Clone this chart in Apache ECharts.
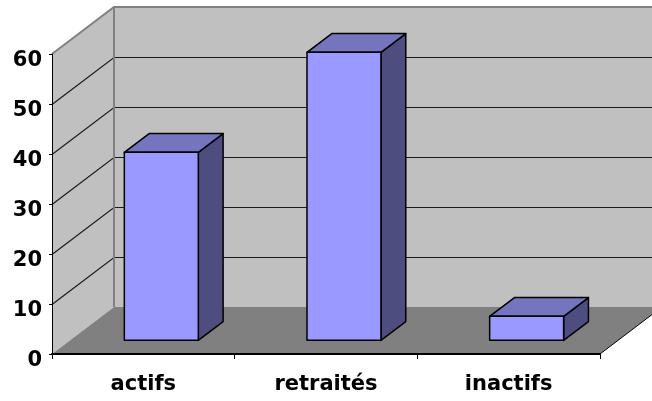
<!DOCTYPE html>
<html><head><meta charset="utf-8">
<script src="https://cdn.jsdelivr.net/npm/echarts@6/dist/echarts.min.js"></script>
<style>html,body{margin:0;padding:0;background:#fff}#chart{width:652px;height:401px}</style>
</head><body><div id="chart"></div>
<script>
const categories = ['actifs', 'retraités', 'inactifs'];
const values = [37.6, 57.6, 4.8];
const yTicks = [0, 10, 20, 30, 40, 50, 60];

// oblique projection of the depth axis: front plane -> back wall
const DEPTH = { x: 62, y: -47 };
const BAR_FRONT = 0.29;   // depth fraction where a bar's front face sits
const BAR_DEPTH = 0.40;   // depth fraction occupied by a bar
const BAR_WIDTH = 0.405;  // share of the category band

const font = '"DejaVu Sans", Arial, sans-serif';
const chart = echarts.init(document.getElementById('chart'), null, { renderer: 'canvas' });

// walls, floor and gridlines of the 3D box
function renderWalls(params, api) {
  const cs = params.coordSys;
  const x0 = cs.x, x1 = cs.x + cs.width;
  const b0 = api.coord([0, yTicks[0]])[1];
  const b1 = api.coord([0, yTicks[yTicks.length - 1]])[1];
  const dx = DEPTH.x, dy = DEPTH.y;
  const ch = [];
  ch.push({ type: 'polygon', shape: { points: [[x0 + dx, b1 + dy], [x1 + dx, b1 + dy], [x1 + dx, b0 + dy], [x0 + dx, b0 + dy]] }, style: { fill: '#C0C0C0' } });
  ch.push({ type: 'polygon', shape: { points: [[x0, b1], [x0 + dx, b1 + dy], [x0 + dx, b0 + dy], [x0, b0]] }, style: { fill: '#C0C0C0' } });
  ch.push({ type: 'polygon', shape: { points: [[x0, b0], [x0 + dx, b0 + dy], [x1 + dx, b0 + dy], [x1, b0]] }, style: { fill: '#808080' } });
  yTicks.slice(1, -1).forEach(v => {
    const y = Math.round(api.coord([0, v])[1]) + 0.5;
    ch.push({ type: 'polyline', shape: { points: [[x0, y], [x0 + dx, y + dy], [x1 + dx, y + dy]] }, style: { stroke: '#1a1a1a', lineWidth: 1.2, fill: null } });
  });
  ch.push({ type: 'polyline', shape: { points: [[x0, b1], [x0 + dx, b1 + dy], [x1 + dx, b1 + dy]] }, style: { stroke: '#808080', lineWidth: 2, fill: null } });
  ch.push({ type: 'line', shape: { x1: x0 + dx, y1: b1 + dy, x2: x0 + dx, y2: b0 + dy }, style: { stroke: '#808080', lineWidth: 2 } });
  ch.push({ type: 'line', shape: { x1: x1, y1: b0, x2: x1 + dx, y2: b0 + dy }, style: { stroke: '#000', lineWidth: 1 } });
  return { type: 'group', children: ch };
}

// one 3D column: side, top and front faces
function renderBar(params, api) {
  const idx = api.value(0), v = api.value(1);
  const base = api.coord([idx, 0]);
  const top = api.coord([idx, v]);
  const band = api.size([1, 0])[0];
  const w = band * BAR_WIDTH;
  const fx = DEPTH.x * BAR_FRONT, fy = DEPTH.y * BAR_FRONT;
  const bx = DEPTH.x * BAR_DEPTH, by = DEPTH.y * BAR_DEPTH;
  const L = base[0] - w / 2 + fx, R = base[0] + w / 2 + fx;
  const T = top[1] + fy, B = base[1] + fy;
  const edge = { stroke: '#000', lineWidth: 1.5, lineJoin: 'round' };
  return {
    type: 'group', children: [
      { type: 'polygon', shape: { points: [[R, T], [R + bx, T + by], [R + bx, B + by], [R, B]] }, style: Object.assign({ fill: '#4D4D80' }, edge) },
      { type: 'polygon', shape: { points: [[L, T], [L + bx, T + by], [R + bx, T + by], [R, T]] }, style: Object.assign({ fill: '#7474BF' }, edge) },
      { type: 'rect', shape: { x: L, y: T, width: R - L, height: B - T }, style: Object.assign({ fill: '#9999FF' }, edge) }
    ]
  };
}

const labelText = { fontFamily: font, fontSize: 21, fontWeight: 'bold', color: '#000' };

chart.setOption({
  animation: false,
  backgroundColor: '#fff',
  grid: { left: 52, right: 52, top: 54, bottom: 47, containLabel: false, outerBoundsMode: 'none' },
  xAxis: {
    type: 'category', data: categories, boundaryGap: true, z: 5,
    axisLine: { lineStyle: { color: '#000', width: 2 } },
    axisTick: { show: true, length: 5, lineStyle: { color: '#000', width: 1 } },
    axisLabel: Object.assign({ margin: 20 }, labelText)
  },
  yAxis: {
    type: 'value', min: 0, max: 60, interval: 10, z: 5,
    axisLine: { show: true, lineStyle: { color: '#000', width: 1 } },
    axisTick: { show: true, length: 3, lineStyle: { color: '#000', width: 1 } },
    splitLine: { show: false },
    axisLabel: Object.assign({
      margin: 10,
      formatter: '{v|{value}}',
      rich: { v: Object.assign({ padding: [14, 0, 0, 0] }, labelText) }
    }, labelText)
  },
  series: [
    { type: 'custom', silent: true, z: 1, renderItem: renderWalls, data: [[0, 0]], encode: { x: 0, y: 1 } },
    { type: 'custom', silent: true, z: 2, renderItem: renderBar, data: values.map((v, i) => [i, v]), encode: { x: 0, y: 1 } }
  ]
});
</script>
</body></html>
